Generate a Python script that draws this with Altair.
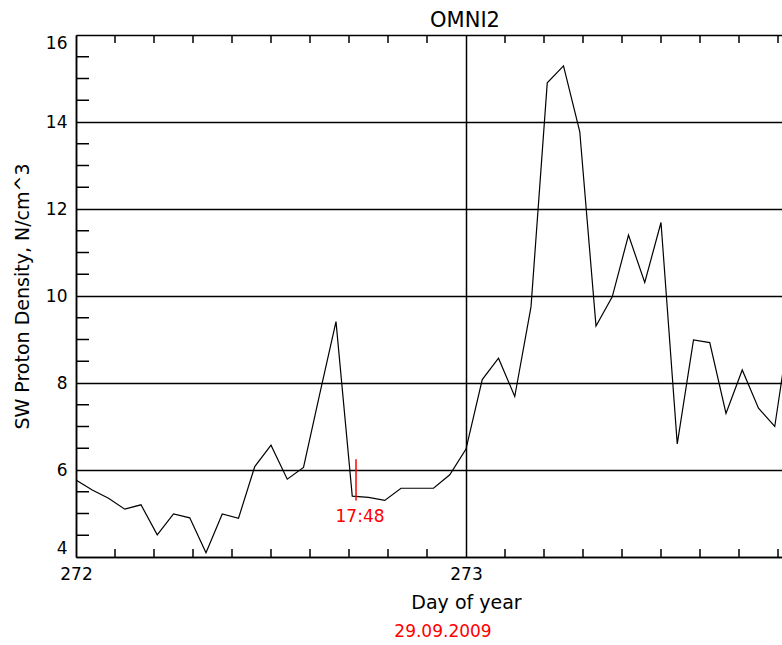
import altair as alt
import pandas as pd

# Hourly OMNI2 solar-wind proton density, starting at day 272.0
hours = list(range(45))
density = [5.77, 5.54, 5.35, 5.10, 5.20, 4.51, 4.99, 4.90, 4.10, 4.99,
           4.89, 6.08, 6.57, 5.79, 6.06, 7.75, 9.41, 5.40, 5.37, 5.30,
           5.58, 5.58, 5.58, 5.89, 6.48, 8.08, 8.57, 7.69, 9.75, 14.90,
           15.29, 13.78, 9.31, 9.98, 11.40, 10.31, 11.69, 6.60, 8.99, 8.93,
           7.30, 8.30, 7.42, 7.00, 9.50]
day = [272 + h / 24 for h in hours]

x_major = [272, 273]
y_major = [4, 6, 8, 10, 12, 14, 16]
x_minor = [272 + i / 10 for i in range(1, 19) if i != 10]
y_minor = [4 + i / 2 for i in range(1, 24) if i % 4 != 0]

marker_day = 272.718
marker_lo, marker_hi = 5.30, 6.25
marker_label = "17:48"
date_label = "29.09.2009"
title_text = "OMNI2"

FONT = "DejaVu Sans"
xs = alt.Scale(domain=[272, 272 + 706 / 390], nice=False, zero=False)
ys = alt.Scale(domain=[4, 16], nice=False, zero=False)

x_axis = alt.Axis(values=x_major, format="d", title="Day of year",
                  grid=True, gridColor="black", gridWidth=1.5, gridOpacity=1,
                  ticks=False, domainColor="black", domainWidth=1.5,
                  labelFont=FONT, labelFontSize=17, labelColor="black",
                  labelPadding=9, labelFlush=False,
                  titleFont=FONT, titleFontSize=19, titleFontWeight="normal",
                  titleColor="black", titleX=390, titleY=51,
                  titleAlign="center", titleBaseline="alphabetic")
y_axis = alt.Axis(values=y_major, format="d",
                  title="SW Proton Density, N/cm^3",
                  grid=True, gridColor="black", gridWidth=1.5, gridOpacity=1,
                  ticks=False, domainColor="black", domainWidth=1.5,
                  labelFont=FONT, labelFontSize=17, labelColor="black",
                  labelPadding=9, labelFlush=True, labelFlushOffset=0,
                  titleFont=FONT, titleFontSize=19, titleFontWeight="normal",
                  titleColor="black", titlePadding=13)

df = pd.DataFrame({"day": day, "n": density})

line = alt.Chart(df).mark_line(color="black", strokeWidth=1.2, clip=True).encode(
    x=alt.X("day:Q", scale=xs, axis=x_axis),
    y=alt.Y("n:Q", scale=ys, axis=y_axis),
)

ytick_df = pd.DataFrame({"v": y_minor})
yticks = alt.Chart(ytick_df).mark_rule(color="black", strokeWidth=1.5).encode(
    y=alt.Y("v:Q", scale=ys, axis=y_axis),
    x=alt.value(0), x2=alt.value(13),
)

xtick_df = pd.DataFrame({"v": x_minor})
xticks_bottom = alt.Chart(xtick_df).mark_rule(color="black", strokeWidth=1.5).encode(
    x=alt.X("v:Q", scale=xs, axis=x_axis),
    y=alt.value(522), y2=alt.value(514),
)
xticks_top = alt.Chart(xtick_df).mark_rule(color="black", strokeWidth=1.5).encode(
    x=alt.X("v:Q", scale=xs, axis=x_axis),
    y=alt.value(0), y2=alt.value(8),
)

mk_df = pd.DataFrame({"d": [marker_day], "lo": [marker_lo], "hi": [marker_hi],
                      "lab": [marker_label], "ly": [4.92]})
marker = alt.Chart(mk_df).mark_rule(color="#ff0000", strokeWidth=1.5).encode(
    x=alt.X("d:Q", scale=xs, axis=x_axis),
    y=alt.Y("lo:Q", scale=ys, axis=y_axis), y2="hi:Q",
)
marker_text = alt.Chart(mk_df).mark_text(
    color="#ff0000", font=FONT, fontSize=17, align="center", baseline="middle", dx=4
).encode(
    x=alt.X("d:Q", scale=xs, axis=x_axis),
    y=alt.Y("ly:Q", scale=ys, axis=y_axis),
    text="lab:N",
)

txt_df = pd.DataFrame({"t": [date_label, title_text]})
date_text = alt.Chart(txt_df).transform_filter(alt.datum.t == date_label).mark_text(
    color="#ff0000", font=FONT, fontSize=17, align="center", baseline="alphabetic"
).encode(x=alt.value(367), y=alt.value(602), text="t:N")
title_mark = alt.Chart(txt_df).transform_filter(alt.datum.t == title_text).mark_text(
    color="black", font=FONT, fontSize=21, align="center", baseline="alphabetic"
).encode(x=alt.value(389), y=alt.value(-8), text="t:N")

chart = alt.layer(line, yticks, xticks_bottom, xticks_top, marker, marker_text,
                  date_text, title_mark).properties(
    width=706, height=522,
    padding={"left": 76, "top": 35, "right": 0, "bottom": 88},
    autosize="none",
).configure_view(stroke=None).configure(background="white")

chart.save("out.html", embed_options={"renderer": "svg", "actions": False})
